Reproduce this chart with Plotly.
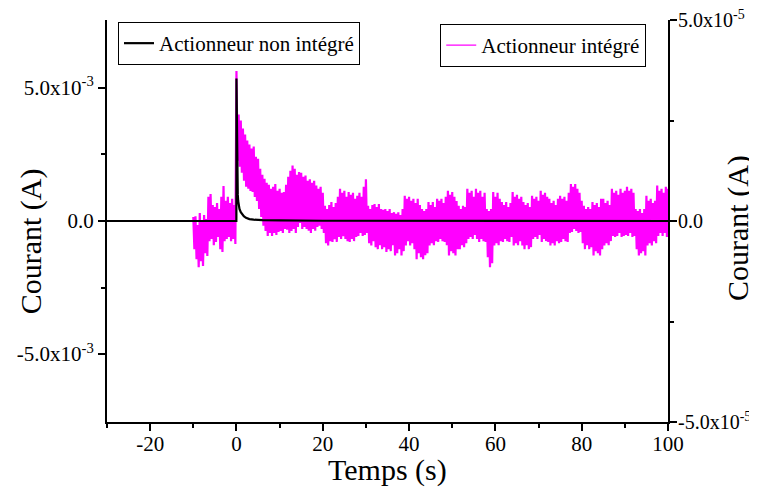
import numpy as np
import plotly.graph_objects as go

# ---------------- data ----------------
# Black trace: "Actionneur non intégré" (left axis, values in mA)
black_t = [-30, -0.02, 0.0, 0.1, 0.2, 0.3, 0.4, 0.5, 0.7, 1.0, 1.3, 1.7, 2.2, 3.0, 4.0, 6.0, 10.0, 20.0, 100.0]
black_i_mA = [0, 0, 5.35, 2.2, 1.4, 1.0, 0.75, 0.6, 0.45, 0.33, 0.25, 0.18, 0.12, 0.07, 0.05, 0.03, 0.02, 0.01, 0.0]

# Magenta trace: "Actionneur intégré" (right axis) – noisy band read as
# upper / lower excursions every 0.5 s from t = -10 s to 100 s (units 1e-5 A)
pink_t0 = -10.0
pink_dt = 0.5
pink_hi = [
    0.1, 0.12, -0.1, 0.2, 0.0, 0.15, 0.05, 0.6, 0.67, 0.4,
    0.35, 0.45, 0.3, 0.6, 0.87, 0.5, 0.6, 0.45, 0.55, 0.4,
    3.73, 2.65, 2.5, 2.3, 2.15, 2.0, 1.9, 1.8, 1.85, 1.6,
    1.55, 1.3, 1.15, 1.05, 0.95, 0.9, 0.8, 0.85, 0.92, 0.75,
    0.8, 0.7, 0.72, 0.9, 1.1, 1.25, 1.38, 1.3, 1.15, 1.22,
    1.2, 1.1, 1.13, 1.0, 1.04, 0.95, 1.0, 0.88, 0.8, 0.85,
    0.7, 0.38, 0.3, 0.4, 0.47, 0.35, 0.45, 0.6, 0.8, 0.7,
    0.75, 0.6, 0.72, 0.65, 0.7, 0.55, 0.63, 0.7, 0.6, 0.85,
    1.04, 0.38, 0.3, 0.4, 0.42, 0.35, 0.42, 0.3, 0.28, 0.3,
    0.25, 0.3, 0.2, 0.22, 0.18, 0.22, 0.15, 0.3, 0.63, 0.55,
    0.6, 0.5, 0.55, 0.45, 0.55, 0.4, 0.3, 0.25, 0.3, 0.47,
    0.4, 0.47, 0.35, 0.55, 0.5, 0.55, 0.45, 0.6, 0.75, 0.65,
    0.72, 0.6, 0.5, 0.38, 0.3, 0.38, 0.35, 0.8, 0.7, 0.75,
    0.6, 0.8, 0.7, 0.75, 0.6, 0.7, 0.3, 0.25, 0.3, 0.72,
    0.6, 0.7, 0.55, 0.47, 0.4, 0.47, 0.35, 0.45, 0.72, 0.6,
    0.65, 0.55, 0.6, 0.47, 0.4, 0.45, 0.35, 0.63, 0.55, 0.6,
    0.5, 0.75, 0.65, 0.7, 0.6, 0.55, 0.45, 0.5, 0.4, 0.55,
    0.63, 0.55, 0.6, 0.5, 0.7, 0.92, 0.85, 0.92, 0.8, 0.7,
    0.5, 0.38, 0.3, 0.35, 0.3, 0.47, 0.4, 0.45, 0.35, 0.55,
    0.55, 0.45, 0.5, 0.4, 0.8, 0.7, 0.75, 0.65, 0.8, 0.7,
    0.75, 0.85, 0.75, 0.8, 0.7, 0.3, 0.25, 0.3, 0.2, 0.3,
    0.63, 0.5, 0.55, 0.45, 0.5, 0.88, 0.75, 0.8, 0.7, 0.85,
    0.8,
]
pink_lo = [
    -0.7, -0.95, -1.15, -1.0, -1.12, -0.8, -0.87, -0.5, -0.45, -0.6,
    -0.52, -0.4, -0.7, -0.77, -0.5, -0.45, -0.4, -0.5, -0.45, -0.57,
    1.5, 1.35, 1.2, 1.0, 0.85, 0.8, 0.75, 0.72, 0.6, 0.5,
    0.3, 0.1, -0.12, -0.25, -0.37, -0.3, -0.37, -0.3, -0.35, -0.27,
    -0.25, -0.3, -0.2, -0.22, -0.3, -0.25, -0.2, -0.3, -0.15, -0.05,
    -0.2, -0.15, -0.2, -0.24, -0.3, -0.2, -0.24, -0.15, -0.12, -0.2,
    -0.3, -0.55, -0.61, -0.5, -0.52, -0.45, -0.52, -0.4, -0.45, -0.38,
    -0.45, -0.5, -0.52, -0.45, -0.5, -0.4, -0.37, -0.3, -0.37, -0.35,
    -0.3, -0.55, -0.61, -0.5, -0.65, -0.7, -0.6, -0.7, -0.65, -0.77,
    -0.7, -0.75, -0.6, -0.86, -0.8, -0.7, -0.86, -0.75, -0.61, -0.5,
    -0.61, -0.55, -0.7, -0.95, -0.8, -0.9, -0.95, -0.85, -0.8, -0.61,
    -0.55, -0.6, -0.5, -0.52, -0.45, -0.5, -0.52, -0.6, -0.86, -0.75,
    -0.8, -0.86, -0.7, -0.7, -0.6, -0.65, -0.55, -0.45, -0.4, -0.45,
    -0.35, -0.45, -0.52, -0.45, -0.5, -0.52, -0.9, -1.15, -1.05, -0.61,
    -0.55, -0.6, -0.5, -0.52, -0.45, -0.5, -0.52, -0.4, -0.61, -0.55,
    -0.6, -0.5, -0.61, -0.7, -0.6, -0.7, -0.65, -0.45, -0.4, -0.45,
    -0.35, -0.52, -0.45, -0.5, -0.52, -0.61, -0.55, -0.61, -0.5, -0.55,
    -0.52, -0.45, -0.5, -0.52, -0.3, -0.27, -0.2, -0.25, -0.3, -0.27,
    -0.55, -0.7, -0.6, -0.7, -0.65, -0.86, -0.75, -0.8, -0.86, -0.7,
    -0.61, -0.55, -0.6, -0.5, -0.37, -0.4, -0.37, -0.3, -0.4, -0.37,
    -0.35, -0.37, -0.3, -0.4, -0.37, -0.7, -0.86, -0.8, -0.75, -0.86,
    -0.61, -0.55, -0.61, -0.5, -0.55, -0.37, -0.3, -0.37, -0.3, -0.4,
    -0.37,
]

x_tickvals = [-20, 0, 20, 40, 60, 80, 100]
x_ticktext = ["-20", "0", "20", "40", "60", "80", "100"]
left_tickvals = [-5e-3, 0.0, 5e-3]
left_ticktext = ["-5.0x10<sup>-3</sup>", "0.0", "5.0x10<sup>-3</sup>"]
right_tickvals = [-5e-5, 0.0, 5e-5]
right_ticktext = ["-5.0x10<sup>-5</sup>", "0.0", "5.0x10<sup>-5</sup>"]

# ---------------- build series ----------------
n = min(len(pink_hi), len(pink_lo))
tp = pink_t0 + pink_dt * np.arange(n)
px_, py_ = [], []
for i in range(n):
    px_.append(tp[i]); py_.append(pink_hi[i] * 1e-5)
    px_.append(tp[i] + pink_dt / 2); py_.append(pink_lo[i] * 1e-5)

FONT = "Liberation Serif, Times New Roman, serif"
PINK = "#FF00FF"

fig = go.Figure()
fig.add_trace(go.Scatter(
    x=px_, y=py_, mode="lines", name="Actionneur intégré",
    line=dict(color=PINK, width=2.2), yaxis="y", showlegend=False,
))
# legend entry for the magenta series
fig.add_trace(go.Scatter(
    x=[None], y=[None], mode="lines", name="Actionneur intégré",
    line=dict(color=PINK, width=1.2), yaxis="y", legend="legend2",
))
fig.add_trace(go.Scatter(
    x=black_t, y=[v * 1e-3 for v in black_i_mA], mode="lines",
    name="Actionneur non intégré", line=dict(color="black", width=2.2),
    yaxis="y2", legend="legend",
))

axis_common = dict(
    showline=True, linecolor="black", linewidth=2, ticks="outside",
    ticklen=7, tickwidth=1.5, tickcolor="black", showgrid=False,
    zeroline=False, automargin=False, ticklabeloverflow="allow",
    tickfont=dict(family=FONT, size=21, color="black"),
)
minor_common = dict(ticks="outside", ticklen=4, tickwidth=1.5, tickcolor="black")

# page body has an 8 px margin: figure is 8 px smaller so that the
# plot area lands at x 107..668, y 20..422 in the 757x490 window
fig.update_layout(
    width=749, height=482,
    margin=dict(l=99, r=89, t=12, b=68, autoexpand=False),
    plot_bgcolor="white", paper_bgcolor="white",
    font=dict(family=FONT, color="black"),
    xaxis=dict(range=[-30, 100], tickmode="array", tickvals=x_tickvals, ticktext=x_ticktext,
               ticklabelstandoff=-5,
               minor=dict(tickmode="array", tickvals=[-30, -10, 10, 30, 50, 70, 90], **minor_common),
               **axis_common),
    yaxis=dict(range=[-5.0001e-5, 5.0001e-5], side="right", anchor="x",
               tickmode="array", tickvals=right_tickvals, ticktext=right_ticktext,
               ticklabelstandoff=-3,
               minor=dict(tickmode="array", tickvals=[-2.5e-5, 2.5e-5], **minor_common),
               **{**axis_common, "tickfont": dict(family=FONT, size=20, color="black")}),
    yaxis2=dict(range=[-7.55e-3, 7.55e-3], side="left", overlaying="y", anchor="x",
                tickmode="array", tickvals=left_tickvals, ticktext=left_ticktext,
                minor=dict(tickmode="array", tickvals=[-2.5e-3, 2.5e-3], **minor_common),
                **axis_common),
    legend=dict(x=0.0196, y=0.995, xanchor="left", yanchor="top",
                bordercolor="black", borderwidth=1, bgcolor="white",
                font=dict(family=FONT, size=21, color="black"),
                tracegroupgap=0, itemwidth=30),
    legend2=dict(x=0.594, y=0.99, xanchor="left", yanchor="top",
                 bordercolor="black", borderwidth=1, bgcolor="white",
                 font=dict(family=FONT, size=21, color="black"),
                 tracegroupgap=0, itemwidth=30),
    showlegend=True,
    annotations=[
        dict(text="Courant (A)", xref="paper", yref="paper", x=-0.135, y=0.45,
             textangle=-90, showarrow=False, xanchor="center", yanchor="middle",
             font=dict(family=FONT, size=30, color="black")),
        dict(text="Courant (A)", xref="paper", yref="paper", x=1.125, y=0.483,
             textangle=-90, showarrow=False, xanchor="center", yanchor="middle",
             font=dict(family=FONT, size=30, color="black")),
        dict(text="Temps (s)", xref="paper", yref="paper", x=0.5, y=-0.12,
             showarrow=False, xanchor="center", yanchor="middle",
             font=dict(family=FONT, size=30, color="black")),
    ],
)

fig.write_html("out.html")
